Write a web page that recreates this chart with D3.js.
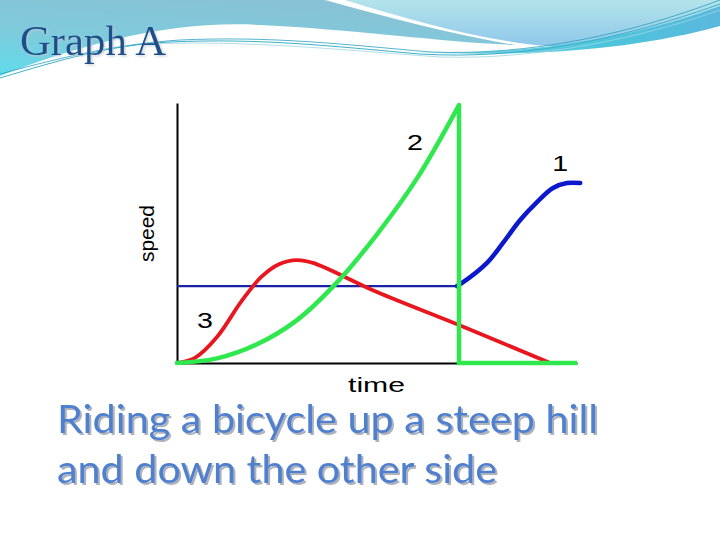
<!DOCTYPE html>
<html>
<head>
<meta charset="utf-8">
<script src="https://cdn.jsdelivr.net/npm/d3@7"></script>
<style>
html,body{margin:0;padding:0;background:#fff;}
svg{display:block;}
</style>
</head>
<body>
<svg id="chart" width="720" height="540"></svg>
<script>
// ---- data (time, speed) ----
const greenRise = [[0,0],[1,0.18],[2,0.72],[3,1.65],[4,3.1],[5,4.95],[6,7.1],[7.05,9.92]];
const greenDrop = [[7.05,9.92],[7.05,0],[10,0]];
const redCurve = [[0,0],[0.45,0.2],[1.0,1.0],[1.6,2.35],[2.1,3.3],[2.55,3.8],[3.0,3.96],[3.4,3.85],[5,2.73],[7.05,1.46],[9.33,0]];
const blueFlat = [[0,2.96],[7.05,2.96]];
const blueRise = [[7.0,2.96],[7.1,3.05],[7.75,3.85],[8.15,4.62],[8.58,5.5],[9.0,6.19],[9.4,6.73],[9.75,6.92],[10.08,6.92]];
const curveLabels = [{t:5.95,v:8.5,text:"2"},{t:9.58,v:7.69,text:"1"},{t:0.7,v:1.65,text:"3"}];
const titleText = "Graph A";
const xLabel = "time";
const yLabel = "speed";
const captionLines = ["Riding a bicycle up a steep hill","and down the other side"];

const svg = d3.select("#chart");

// ---- header decoration ----
const defs = svg.append("defs");
const g1 = defs.append("linearGradient").attr("id","gBand").attr("x1","0").attr("y1","1").attr("x2","0.45").attr("y2","0");
g1.append("stop").attr("offset","0").attr("stop-color","#5fdcea");
g1.append("stop").attr("offset","0.5").attr("stop-color","#7ecbdc");
g1.append("stop").attr("offset","1").attr("stop-color","#88c2d6");
const g2 = defs.append("linearGradient").attr("id","gRight").attr("x1","0").attr("y1","0").attr("x2","0").attr("y2","1");
g2.append("stop").attr("offset","0").attr("stop-color","#b4e4ea");
g2.append("stop").attr("offset","1").attr("stop-color","#8ec8ea");
const g3 = defs.append("linearGradient").attr("id","gCyan").attr("x1","0").attr("y1","0").attr("x2","1").attr("y2","0");
g3.append("stop").attr("offset","0").attr("stop-color","#7fd8e6");
g3.append("stop").attr("offset","0.6").attr("stop-color","#4cc6dc");
g3.append("stop").attr("offset","1").attr("stop-color","#5ab8dc");
const sh = defs.append("filter").attr("id","shadow").attr("x","-5%").attr("y","-20%").attr("width","110%").attr("height","140%");
sh.append("feDropShadow").attr("dx",2).attr("dy",2).attr("stdDeviation",0.6).attr("flood-color","#9aa0aa").attr("flood-opacity",0.8);
const sh2 = defs.append("filter").attr("id","shadowT").attr("x","-5%").attr("y","-20%").attr("width","110%").attr("height","140%");
sh2.append("feDropShadow").attr("dx",1.5).attr("dy",1.5).attr("stdDeviation",0.8).attr("flood-color","#b8c8d0").attr("flood-opacity",0.8);

const deco = svg.append("g");
deco.append("path").attr("fill","url(#gBand)")
  .attr("d","M0,0 L325,0 C390,18 450,34 515,45 C440,42 360,30 260,25 C170,20 80,45 0,76 Z");
deco.append("path").attr("fill","url(#gRight)")
  .attr("d","M345,0 L720,0 L720,18 C680,34 620,47 545,46 C480,40 410,20 345,0 Z");
deco.append("path").attr("fill","url(#gCyan)")
  .attr("d","M410,52 C520,56 630,40 720,6 L720,26 C640,48 540,58 410,52 Z");
deco.append("path").attr("fill","none").attr("stroke","#3fb0c8").attr("stroke-width",1)
  .attr("d","M0,78 C60,60 110,45 170,42 C260,38 330,46 420,54 C520,60 620,40 720,4");
deco.append("path").attr("fill","none").attr("stroke","#2aa0c0").attr("stroke-width",0.8)
  .attr("d","M0,74 C70,55 120,44 180,40 C270,36 340,44 430,52 C530,56 630,34 720,0");
deco.append("path").attr("fill","none").attr("stroke","#9fd6e2").attr("stroke-width",0.8)
  .attr("d","M150,44 C250,40 340,50 440,57 C540,60 640,38 720,10");

// title
svg.append("text").attr("x",20).attr("y",55)
  .attr("font-family","'Liberation Serif','DejaVu Serif',serif")
  .attr("font-size",43).attr("fill","#1d4f8b").attr("filter","url(#shadowT)")
  .attr("textLength",146).attr("lengthAdjust","spacingAndGlyphs").text(titleText);

// ---- chart ----
const x = d3.scaleLinear().domain([0,10]).range([177,577]);
const y = d3.scaleLinear().domain([0,10]).range([363,103]);

const xAxis = d3.axisBottom(x).ticks(0).tickSizeOuter(0);
const yAxis = d3.axisLeft(y).ticks(0).tickSizeOuter(0);
const gx = svg.append("g").attr("transform",`translate(0,${y(0)})`).call(xAxis);
const gy = svg.append("g").attr("transform",`translate(${x(0)},0)`).call(yAxis);
[gx,gy].forEach(g=>g.select(".domain").attr("stroke","#000").attr("stroke-width",2));

const lineCurve = d3.line().x(d=>x(d[0])).y(d=>y(d[1])).curve(d3.curveCatmullRom.alpha(0.5));
const lineStraight = d3.line().x(d=>x(d[0])).y(d=>y(d[1]));

svg.append("path").datum(blueFlat).attr("fill","none").attr("stroke","#1a22a8").attr("stroke-width",2.2).attr("d",lineStraight);
svg.append("path").datum(blueRise).attr("fill","none").attr("stroke","#0b18cc").attr("stroke-width",4.5).attr("stroke-linecap","round").attr("d",lineCurve);
svg.append("path").datum(redCurve).attr("fill","none").attr("stroke","#e8161e").attr("stroke-width",3.8).attr("stroke-linecap","round").attr("d",lineCurve);
svg.append("path").datum(greenRise).attr("fill","none").attr("stroke","#2ee84e").attr("stroke-width",4.5).attr("stroke-linecap","round").attr("d",lineCurve);
svg.append("path").datum(greenDrop).attr("fill","none").attr("stroke","#2ee84e").attr("stroke-width",4.5).attr("stroke-linejoin","miter").attr("d",lineStraight);

// curve labels
svg.selectAll("text.cl").data(curveLabels).join("text").attr("class","cl")
  .attr("x",d=>x(d.t)).attr("y",d=>y(d.v)+8)
  .attr("text-anchor","middle")
  .attr("font-family","'Liberation Sans',Arial,sans-serif").attr("font-size",22)
  .attr("fill","#000")
  .attr("transform",d=>`translate(${x(d.t)},0) scale(1.3,1) translate(${-x(d.t)},0)`)
  .text(d=>d.text);

// axis labels
svg.append("text").attr("x",348).attr("y",392)
  .attr("font-family","'Liberation Sans',Arial,sans-serif").attr("font-size",20)
  .attr("textLength",57).attr("lengthAdjust","spacingAndGlyphs").attr("fill","#000").text(xLabel);
svg.append("text").attr("transform","translate(154,262) rotate(-90)")
  .attr("font-family","'Liberation Sans',Arial,sans-serif").attr("font-size",21)
  .attr("textLength",57).attr("lengthAdjust","spacingAndGlyphs").attr("fill","#000").text(yLabel);

// caption
const capY = [433, 483];
const capW = [541, 440];
captionLines.forEach((t,i)=>{
  svg.append("text").attr("x",57).attr("y",capY[i])
    .attr("font-family","Lato,'Open Sans',sans-serif").attr("font-size",38)
    .attr("textLength",capW[i]).attr("lengthAdjust","spacingAndGlyphs")
    .attr("fill","#4f80d0").attr("filter","url(#shadow)").text(t);
});
</script>
</body>
</html>
